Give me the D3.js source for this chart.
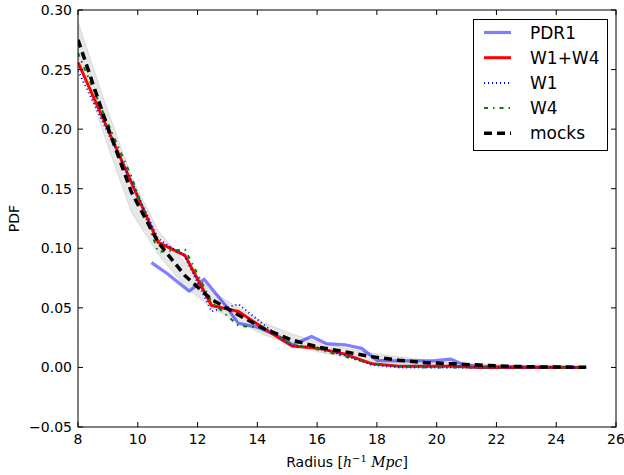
<!DOCTYPE html>
<html>
<head>
<meta charset="utf-8">
<script src="https://cdn.jsdelivr.net/npm/d3@7"></script>
<style>
  html, body { margin: 0; padding: 0; background: #fff; }
  svg { display: block; }
  text { font-family: "DejaVu Sans", sans-serif; fill: #000; }
</style>
</head>
<body>
<svg id="chart" width="624" height="475"></svg>
<script>
// ---- data ----
const radius = [8.00, 8.89, 9.79, 10.68, 11.58, 12.47, 13.37, 14.26, 15.16, 16.05,
                16.95, 17.84, 18.74, 19.63, 20.53, 21.42, 22.32, 23.21, 24.11, 25.00];
const w1w4  = [0.256, 0.206, 0.155, 0.105, 0.094, 0.052, 0.047, 0.032, 0.018, 0.016,
               0.011, 0.003, 0.001, 0.001, 0.001, 0.000, 0.000, 0.000, 0.000, 0.000];
const w1    = [0.249, 0.203, 0.156, 0.108, 0.093, 0.047, 0.053, 0.035, 0.018, 0.016,
               0.010, 0.002, 0.000, 0.000, 0.000, 0.000, 0.000, 0.000, 0.000, 0.000];
const w4    = [0.264, 0.211, 0.160, 0.097, 0.099, 0.055, 0.035, 0.033, 0.019, 0.015,
               0.009, 0.003, 0.001, 0.000, 0.000, 0.000, 0.000, 0.000, 0.000, 0.000];
const mocks = [0.275, 0.209, 0.147, 0.105, 0.077, 0.057, 0.044, 0.032, 0.023, 0.017,
               0.013, 0.009, 0.006, 0.004, 0.003, 0.002, 0.001, 0.0005, 0.0003, 0.0002];
const mocksHi = [0.290, 0.223, 0.160, 0.115, 0.088, 0.064, 0.050, 0.037, 0.028, 0.021,
                 0.016, 0.012, 0.009, 0.006, 0.004, 0.003, 0.002, 0.001, 0.001, 0.0005];
const mocksLo = [0.262, 0.194, 0.130, 0.095, 0.068, 0.050, 0.038, 0.027, 0.019, 0.013,
                 0.009, 0.005, 0.003, 0.002, 0.001, 0.000, 0.000, 0.000, 0.000, 0.000];
const pdr1Radius = [10.46, 10.97, 11.72, 12.22, 12.97, 13.36, 13.98, 14.65, 15.20, 15.81,
                    16.32, 16.93, 17.49, 18.00, 18.60, 19.88, 20.46, 20.92, 21.50, 25.00];
const pdr1  = [0.088, 0.079, 0.064, 0.074, 0.051, 0.037, 0.034, 0.027, 0.019, 0.026,
               0.020, 0.019, 0.016, 0.006, 0.0055, 0.0055, 0.007, 0.002, 0.001, 0.000];
const xTicks = [8, 10, 12, 14, 16, 18, 20, 22, 24, 26];
const yTicks = [-0.05, 0.00, 0.05, 0.10, 0.15, 0.20, 0.25, 0.30];
const legendLabels = ["PDR1", "W1+W4", "W1", "W4", "mocks"];

// ---- layout ----
const svg = d3.select("#chart");
const L = 78, R = 616, T = 10, B = 427;
const x = d3.scaleLinear().domain([8, 26]).range([L, R]);
const y = d3.scaleLinear().domain([-0.05, 0.30]).range([B, T]);

svg.append("defs").append("clipPath").attr("id", "clip")
  .append("rect").attr("x", L).attr("y", T).attr("width", R - L).attr("height", B - T);

const plot = svg.append("g").attr("clip-path", "url(#clip)");

// band
const area = d3.area()
  .x((d, i) => x(radius[i]))
  .y0((d, i) => y(mocksLo[i]))
  .y1((d, i) => y(mocksHi[i]));
plot.append("path").datum(radius).attr("d", area)
  .attr("fill", "#d3d3d3").attr("fill-opacity", 0.55)
  .attr("stroke", "#c8c8c8").attr("stroke-opacity", 0.6).attr("stroke-width", 1);

const line = (xs, ys) => d3.line().x((d, i) => x(xs[i])).y((d, i) => y(ys[i]))(ys);

const styles = [
  { xs: pdr1Radius, ys: pdr1, color: "#0000ff", opacity: 0.5, width: 3.2, dash: null },
  { xs: radius, ys: w1w4, color: "#ff0000", opacity: 1, width: 3, dash: null },
  { xs: radius, ys: w1, color: "#0000ff", opacity: 1, width: 2, dash: "1,3" },
  { xs: radius, ys: w4, color: "#008000", opacity: 1, width: 2, dash: "4,5,1.5,5" },
  { xs: radius, ys: mocks, color: "#000000", opacity: 1, width: 3.5, dash: "8,5" }
];

styles.forEach(s => {
  plot.append("path").attr("d", line(s.xs, s.ys))
    .attr("fill", "none").attr("stroke", s.color).attr("stroke-opacity", s.opacity)
    .attr("stroke-width", s.width).attr("stroke-dasharray", s.dash)
    .attr("stroke-linejoin", "round");
});

// ---- axes ----
const tickLen = 5;
const axes = svg.append("g");
xTicks.forEach(t => {
  axes.append("line").attr("x1", x(t)).attr("x2", x(t)).attr("y1", B).attr("y2", B - tickLen).attr("stroke", "#000");
  axes.append("line").attr("x1", x(t)).attr("x2", x(t)).attr("y1", T).attr("y2", T + tickLen).attr("stroke", "#000");
  axes.append("text").attr("x", x(t)).attr("y", 444).attr("text-anchor", "middle")
    .attr("font-size", 14).text(d3.format("d")(t));
});
yTicks.forEach(t => {
  axes.append("line").attr("x1", L).attr("x2", L + tickLen).attr("y1", y(t)).attr("y2", y(t)).attr("stroke", "#000");
  axes.append("line").attr("x1", R).attr("x2", R - tickLen).attr("y1", y(t)).attr("y2", y(t)).attr("stroke", "#000");
  axes.append("text").attr("x", 72).attr("y", y(t) + 5).attr("text-anchor", "end")
    .attr("font-size", 14).text(d3.format(".2f")(t).replace("-", "\u2212"));
});
axes.append("rect").attr("x", L).attr("y", T).attr("width", R - L).attr("height", B - T)
  .attr("fill", "none").attr("stroke", "#000").attr("stroke-width", 1);

// labels
svg.append("text").attr("transform", `translate(19,${(T + B) / 2}) rotate(-90)`)
  .attr("text-anchor", "middle").attr("font-size", 14).text("PDF");

const xl = svg.append("text").attr("x", (L + R) / 2).attr("y", 467).attr("text-anchor", "middle").attr("font-size", 14);
xl.append("tspan").text("Radius ");
xl.append("tspan").attr("font-family", "DejaVu Serif, serif").text("[");
xl.append("tspan").attr("font-family", "DejaVu Serif, serif").attr("font-style", "italic").text("h");
xl.append("tspan").attr("font-family", "DejaVu Serif, serif").attr("font-size", 10).attr("dy", -5).text("\u22121");
xl.append("tspan").attr("font-family", "DejaVu Serif, serif").attr("font-style", "italic").attr("dy", 5).text(" Mpc");
xl.append("tspan").attr("font-family", "DejaVu Serif, serif").text("]");

// ---- legend ----
const lg = svg.append("g");
lg.append("rect").attr("x", 473.5).attr("y", 19.5).attr("width", 134).attr("height", 131)
  .attr("fill", "#fff").attr("stroke", "#000").attr("stroke-width", 1);
styles.forEach((s, i) => {
  const yy = 32.5 + i * 25.2;
  lg.append("line").attr("x1", 484).attr("x2", 511).attr("y1", yy).attr("y2", yy)
    .attr("stroke", s.color).attr("stroke-opacity", s.opacity).attr("stroke-width", s.width)
    .attr("stroke-dasharray", s.dash);
  lg.append("text").attr("x", 530).attr("y", yy + 6).attr("font-size", 17).text(legendLabels[i]);
});
</script>
</body>
</html>
